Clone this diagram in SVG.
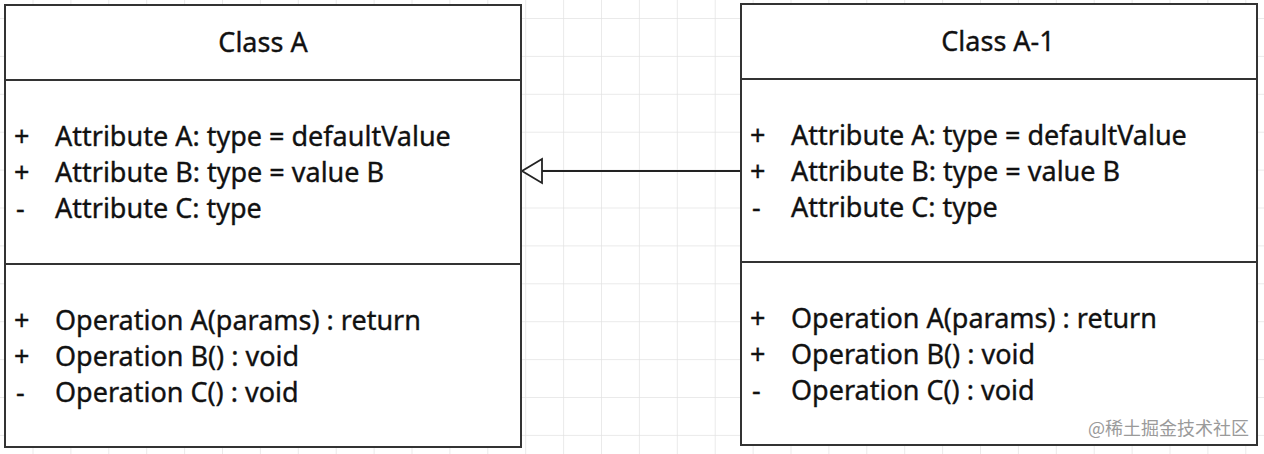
<svg xmlns="http://www.w3.org/2000/svg" width="1264" height="454" viewBox="0 0 1264 454">
<defs>
<pattern id="grid" x="32.5" y="18" width="37.9" height="37.9" patternUnits="userSpaceOnUse">
<path d="M0 0H37.9M0 0V37.9" fill="none" stroke="#e3e3e3" stroke-width="1.5"/>
</pattern>
</defs>
<style>
.box{fill:#fff;stroke:#333;stroke-width:2}
.sep{stroke:#333;stroke-width:2}
text{font-family:"Noto Sans","Open Sans",sans-serif;font-size:27px;fill:#111;stroke:#111;stroke-width:0.35}
.t{text-anchor:middle}
.wm{font-family:"Noto Sans CJK SC",sans-serif;font-size:18px;fill:#9a9a9a;stroke:none}
</style>
<rect width="1264" height="454" fill="#fff"/>
<rect width="1264" height="454" fill="url(#grid)"/>
<g id="connectors">
<line x1="741" y1="171" x2="542" y2="171" stroke="#222" stroke-width="2"/>
<path d="M542 159L522 171L542 183Z" fill="#fff" stroke="#222" stroke-width="1.8"/>
</g>
<g id="classA">
<rect class="box" x="5" y="5" width="516" height="442"/>
<line class="sep" x1="5" y1="80" x2="521" y2="80"/>
<line class="sep" x1="5" y1="264" x2="521" y2="264"/>
<text class="t" x="263" y="52">Class A</text>
<text x="14" y="146">+</text><text x="55" y="146">Attribute A: type = defaultValue</text>
<text x="14" y="182">+</text><text x="55" y="182">Attribute B: type = value B</text>
<text x="16" y="218">-</text><text x="55" y="218">Attribute C: type</text>
<text x="14" y="330">+</text><text x="55" y="330">Operation A(params) : return</text>
<text x="14" y="366">+</text><text x="55" y="366">Operation B() : void</text>
<text x="16" y="402">-</text><text x="55" y="402">Operation C() : void</text>
</g>
<g id="classA1">
<rect class="box" x="741" y="4" width="516" height="441"/>
<line class="sep" x1="741" y1="79" x2="1257" y2="79"/>
<line class="sep" x1="741" y1="262" x2="1257" y2="262"/>
<text class="t" x="998" y="51">Class A-1</text>
<text x="750" y="145">+</text><text x="791" y="145">Attribute A: type = defaultValue</text>
<text x="750" y="181">+</text><text x="791" y="181">Attribute B: type = value B</text>
<text x="752" y="217">-</text><text x="791" y="217">Attribute C: type</text>
<text x="750" y="328">+</text><text x="791" y="328">Operation A(params) : return</text>
<text x="750" y="364">+</text><text x="791" y="364">Operation B() : void</text>
<text x="752" y="400">-</text><text x="791" y="400">Operation C() : void</text>
</g>
<text class="wm" x="1088" y="435">@稀土掘金技术社区</text>
</svg>
